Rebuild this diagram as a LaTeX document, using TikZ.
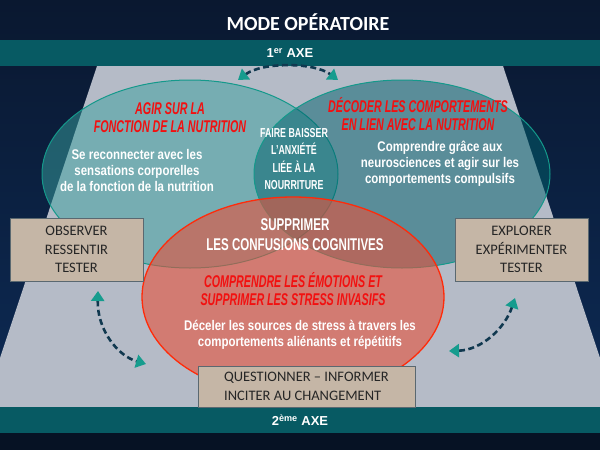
\documentclass[tikz,border=0pt]{standalone}
\usepackage{fontspec}
\usetikzlibrary{arrows.meta,positioning,shapes.geometric}
\setmainfont{Liberation Sans}
\newfontfamily\calfont{Carlito}
\newfontfamily\bodyfont[FakeStretch=0.82]{Liberation Sans}
\newfontfamily\capsfont[FakeStretch=0.68]{Liberation Sans}
\newfontfamily\redfont[FakeStretch=0.63]{Liberation Sans}
\definecolor{bgtop}{HTML}{0A1830}
\definecolor{bgbot}{HTML}{0D2C58}
\definecolor{bgfoot}{HTML}{061224}
\definecolor{bandteal}{HTML}{075A63}
\definecolor{stage}{HTML}{B5BBC7}
\definecolor{tealL}{HTML}{38A09E}
\definecolor{tealR}{HTML}{00606C}
\definecolor{tealline}{HTML}{14998B}
\definecolor{redfill}{HTML}{E6513A}
\definecolor{redline}{HTML}{FF2B0A}
\definecolor{titlered}{HTML}{F21010}
\definecolor{boxfill}{HTML}{C5B6A6}
\definecolor{boxline}{HTML}{5A6870}
\definecolor{arrline}{HTML}{10384F}
\definecolor{arrhead}{HTML}{169C8E}
\begin{document}
\begin{tikzpicture}[x=1pt,y=-1pt,
  zone/.style={ellipse,draw=tealline,line width=1pt,fill opacity=0.5,inner sep=0pt,minimum width=296pt,minimum height=188pt},
  redtitle/.style={text=titlered,align=center,font=\redfont\bfseries\itshape\fontsize{17}{18}\selectfont},
  body/.style={text=white,align=center,font=\bodyfont\bfseries\fontsize{14}{16}\selectfont},
  caps/.style={text=white,align=center,font=\capsfont\bfseries\fontsize{13}{17.3}\selectfont},
  box/.style={draw=boxline,fill=boxfill,align=center,text=black!85,inner sep=0pt,font=\calfont\fontsize{14.5}{18.5}\selectfont},
  cyc/.style={draw=arrline,line width=2.6pt,dash pattern=on 6pt off 3.5pt,
    {Triangle[color=arrhead,length=10pt,width=13pt]}-{Triangle[color=arrhead,length=10pt,width=13pt]}}]
\useasboundingbox (0,0) rectangle (600,450);
% background, stage and bands
\shade[top color=bgtop,bottom color=bgbot] (0,0) rectangle (600,450);
\fill[bgfoot] (0,433) rectangle (600,450);
\fill[stage] (97,66) -- (503,66) -- (600,358) -- (600,407) -- (0,407) -- (0,358) -- cycle;
\fill[bandteal] (0,40) rectangle (600,66);
\fill[bandteal] (0,407) rectangle (600,433);
\node[text=white,font=\calfont\bfseries\fontsize{20}{24}\selectfont] (title) at (308,22) {MODE OPÉRATOIRE};
\node[text=white,font=\bfseries\fontsize{13}{15}\selectfont] (axe1) at (290,53) {1\textsuperscript{er} AXE};
\node[text=white,font=\bfseries\fontsize{13}{15}\selectfont] (axe2) at (300,420) {2\textsuperscript{ème} AXE};
% the three zones
\node[zone,fill=tealL] (agir) at (190,174) {};
\node[zone,fill=tealR] (decoder) at (402,174) {};
\node[ellipse,draw=redline,line width=1.3pt,fill=redfill,fill opacity=0.6,inner sep=0pt,minimum width=302pt,minimum height=200pt] (emo) at (293,297) {};
% cycles
\coordinate (a1) at (238,80); \coordinate (a2) at (338,80);
\coordinate (l1) at (98,291); \coordinate (l2) at (146,364);
\coordinate (r1) at (515,298); \coordinate (r2) at (449,351);
\draw[cyc] (a1) .. controls (262,62) and (314,62) .. (a2);
\draw[cyc] (l1) .. controls (97,330) and (118,356) .. (l2);
\draw[cyc] (r1) .. controls (505,328) and (482,350) .. (r2);
% boxes
\node[box,minimum width=133pt,minimum height=63pt] (obs) at (76.5,249.5) {OBSERVER\\RESSENTIR\\TESTER};
\node[box,minimum width=133pt,minimum height=63pt] (expl) at (521.5,249.5) {EXPLORER\\EXPÉRIMENTER\\TESTER};
\node[box,align=left,minimum width=217pt,minimum height=41pt] (quest) at (306.5,386.5) {QUESTIONNER – INFORMER\\INCITER AU CHANGEMENT};
% texts
\node[redtitle] (t1) at (170,118) {AGIR SUR LA\\FONCTION DE LA NUTRITION};
\node[body] (b1) at (137,170) {Se reconnecter avec les\\sensations corporelles\\de la fonction de la nutrition};
\node[caps] (lens) at (294,159) {FAIRE BAISSER\\L’ANXIÉTÉ\\LIÉE À LA\\NOURRITURE};
\node[redtitle] (t2) at (418,114) {DÉCODER LES COMPORTEMENTS\\EN LIEN AVEC LA NUTRITION};
\node[body] (b2) at (440,164) {Comprendre grâce aux\\neurosciences et agir sur les\\comportements compulsifs};
\node[caps,font=\capsfont\bfseries\fontsize{17}{20}\selectfont] (sup) at (295,235) {SUPPRIMER\\LES CONFUSIONS COGNITIVES};
\node[redtitle] (t3) at (293,289) {COMPRENDRE LES ÉMOTIONS ET\\SUPPRIMER LES STRESS INVASIFS};
\node[body] (b3) at (300,335) {Déceler les sources de stress à travers les\\comportements aliénants et répétitifs};
\end{tikzpicture}
\end{document}
